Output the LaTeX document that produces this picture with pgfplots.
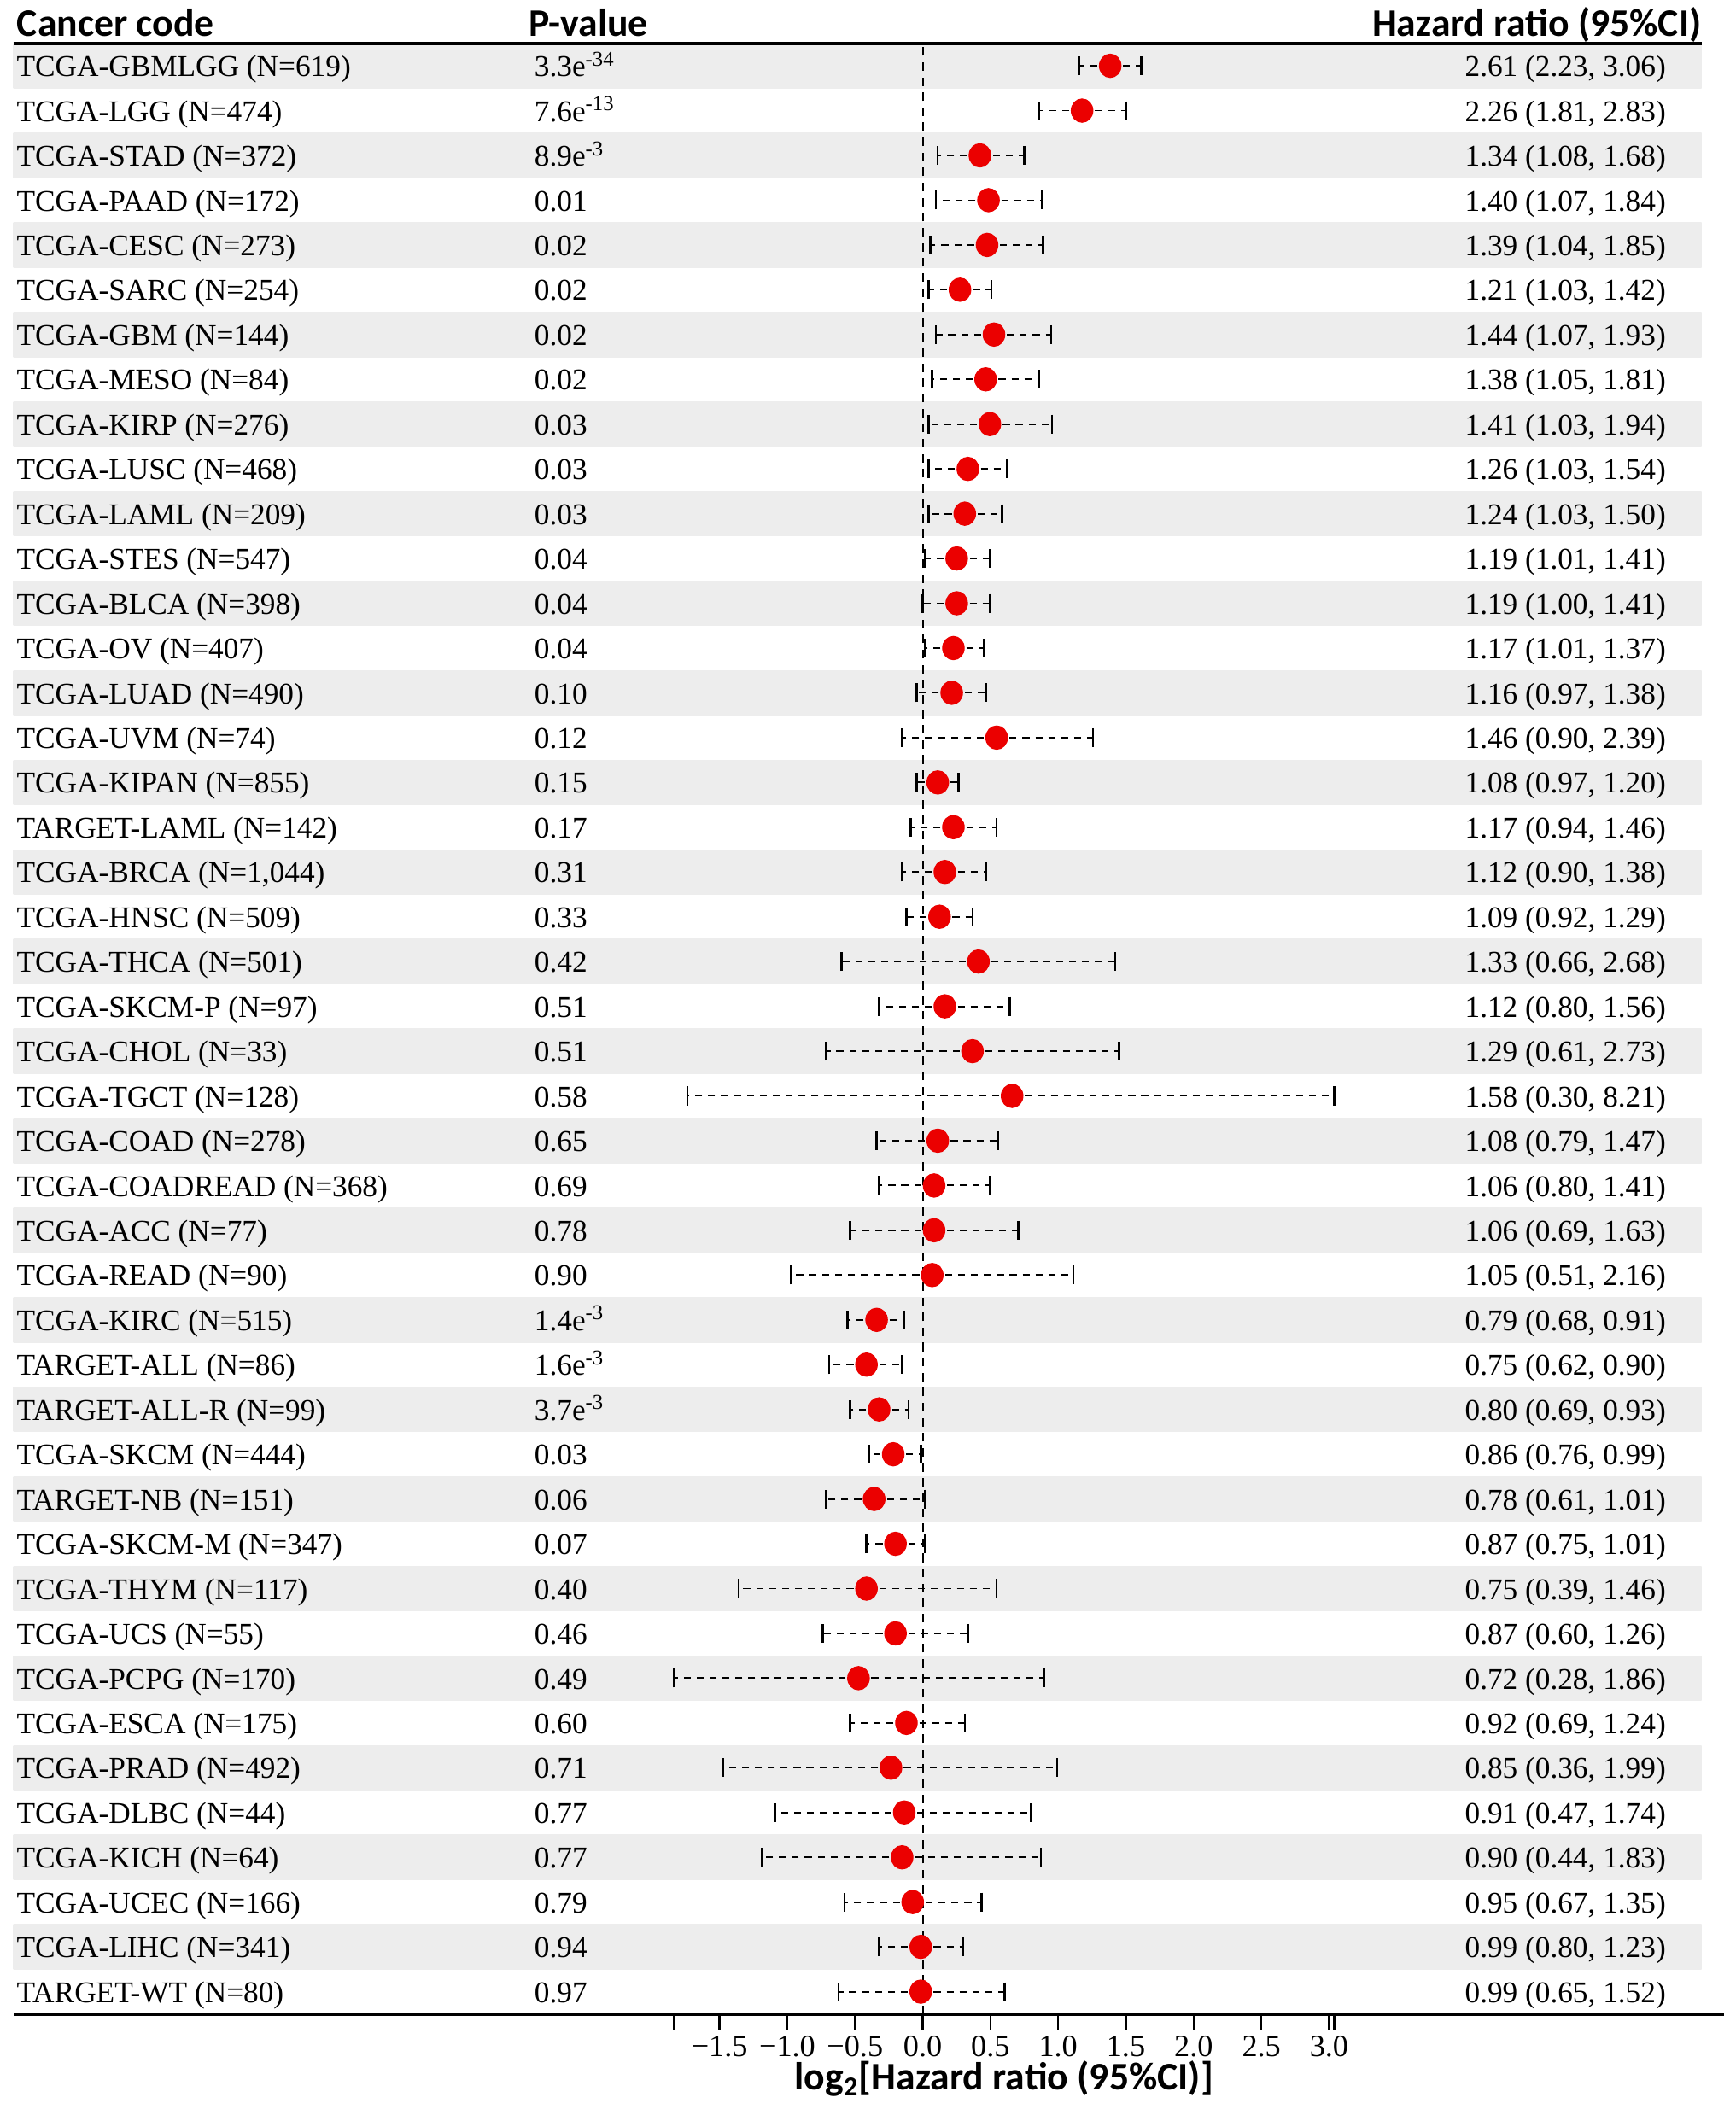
\documentclass[border=0pt]{standalone}
\usepackage{fontspec}
\setmainfont{Liberation Serif}
\newfontfamily\headfont{Carlito}
\usepackage{pgfplots}
\usepackage{pgfplotstable}
\pgfplotsset{compat=1.18}

\definecolor{dotred}{RGB}{235,0,0}
\tikzset{rowtext/.style={inner sep=0pt, yshift=-4pt, font=\fontsize{11.2}{13}\selectfont}}

% row; label; p-value; HR; lower; upper; HR text
\pgfplotstableread[col sep=semicolon, row sep=\\]{
row;name;p;hr;lo;hi;txt\\
1;TCGA-GBMLGG (N=619);3.3e\textsuperscript{-34};2.61;2.23;3.06;2.61 (2.23, 3.06)\\
2;TCGA-LGG (N=474);7.6e\textsuperscript{-13};2.26;1.81;2.83;2.26 (1.81, 2.83)\\
3;TCGA-STAD (N=372);8.9e\textsuperscript{-3};1.34;1.08;1.68;1.34 (1.08, 1.68)\\
4;TCGA-PAAD (N=172);0.01;1.40;1.07;1.84;1.40 (1.07, 1.84)\\
5;TCGA-CESC (N=273);0.02;1.39;1.04;1.85;1.39 (1.04, 1.85)\\
6;TCGA-SARC (N=254);0.02;1.21;1.03;1.42;1.21 (1.03, 1.42)\\
7;TCGA-GBM (N=144);0.02;1.44;1.07;1.93;1.44 (1.07, 1.93)\\
8;TCGA-MESO (N=84);0.02;1.38;1.05;1.81;1.38 (1.05, 1.81)\\
9;TCGA-KIRP (N=276);0.03;1.41;1.03;1.94;1.41 (1.03, 1.94)\\
10;TCGA-LUSC (N=468);0.03;1.26;1.03;1.54;1.26 (1.03, 1.54)\\
11;TCGA-LAML (N=209);0.03;1.24;1.03;1.50;1.24 (1.03, 1.50)\\
12;TCGA-STES (N=547);0.04;1.19;1.01;1.41;1.19 (1.01, 1.41)\\
13;TCGA-BLCA (N=398);0.04;1.19;1.00;1.41;1.19 (1.00, 1.41)\\
14;TCGA-OV (N=407);0.04;1.17;1.01;1.37;1.17 (1.01, 1.37)\\
15;TCGA-LUAD (N=490);0.10;1.16;0.97;1.38;1.16 (0.97, 1.38)\\
16;TCGA-UVM (N=74);0.12;1.46;0.90;2.39;1.46 (0.90, 2.39)\\
17;TCGA-KIPAN (N=855);0.15;1.08;0.97;1.20;1.08 (0.97, 1.20)\\
18;TARGET-LAML (N=142);0.17;1.17;0.94;1.46;1.17 (0.94, 1.46)\\
19;TCGA-BRCA (N=1,044);0.31;1.12;0.90;1.38;1.12 (0.90, 1.38)\\
20;TCGA-HNSC (N=509);0.33;1.09;0.92;1.29;1.09 (0.92, 1.29)\\
21;TCGA-THCA (N=501);0.42;1.33;0.66;2.68;1.33 (0.66, 2.68)\\
22;TCGA-SKCM-P (N=97);0.51;1.12;0.80;1.56;1.12 (0.80, 1.56)\\
23;TCGA-CHOL (N=33);0.51;1.29;0.61;2.73;1.29 (0.61, 2.73)\\
24;TCGA-TGCT (N=128);0.58;1.58;0.30;8.21;1.58 (0.30, 8.21)\\
25;TCGA-COAD (N=278);0.65;1.08;0.79;1.47;1.08 (0.79, 1.47)\\
26;TCGA-COADREAD (N=368);0.69;1.06;0.80;1.41;1.06 (0.80, 1.41)\\
27;TCGA-ACC (N=77);0.78;1.06;0.69;1.63;1.06 (0.69, 1.63)\\
28;TCGA-READ (N=90);0.90;1.05;0.51;2.16;1.05 (0.51, 2.16)\\
29;TCGA-KIRC (N=515);1.4e\textsuperscript{-3};0.79;0.68;0.91;0.79 (0.68, 0.91)\\
30;TARGET-ALL (N=86);1.6e\textsuperscript{-3};0.75;0.62;0.90;0.75 (0.62, 0.90)\\
31;TARGET-ALL-R (N=99);3.7e\textsuperscript{-3};0.80;0.69;0.93;0.80 (0.69, 0.93)\\
32;TCGA-SKCM (N=444);0.03;0.86;0.76;0.99;0.86 (0.76, 0.99)\\
33;TARGET-NB (N=151);0.06;0.78;0.61;1.01;0.78 (0.61, 1.01)\\
34;TCGA-SKCM-M (N=347);0.07;0.87;0.75;1.01;0.87 (0.75, 1.01)\\
35;TCGA-THYM (N=117);0.40;0.75;0.39;1.46;0.75 (0.39, 1.46)\\
36;TCGA-UCS (N=55);0.46;0.87;0.60;1.26;0.87 (0.60, 1.26)\\
37;TCGA-PCPG (N=170);0.49;0.72;0.28;1.86;0.72 (0.28, 1.86)\\
38;TCGA-ESCA (N=175);0.60;0.92;0.69;1.24;0.92 (0.69, 1.24)\\
39;TCGA-PRAD (N=492);0.71;0.85;0.36;1.99;0.85 (0.36, 1.99)\\
40;TCGA-DLBC (N=44);0.77;0.91;0.47;1.74;0.91 (0.47, 1.74)\\
41;TCGA-KICH (N=64);0.77;0.90;0.44;1.83;0.90 (0.44, 1.83)\\
42;TCGA-UCEC (N=166);0.79;0.95;0.67;1.35;0.95 (0.67, 1.35)\\
43;TCGA-LIHC (N=341);0.94;0.99;0.80;1.23;0.99 (0.80, 1.23)\\
44;TARGET-WT (N=80);0.97;0.99;0.65;1.52;0.99 (0.65, 1.52)\\
}\foresttable

\begin{document}
\begin{tikzpicture}
\begin{axis}[
  width=636pt, height=732.6pt, scale only axis,
  xmin=-6.713, xmax=5.918, ymin=0.5, ymax=44.5,
  clip=false,
  axis x line*=bottom, hide y axis,
  x axis line style={-, line width=1.2pt},
  xtick={-1.5,-1,-0.5,0,0.5,1,1.5,2,2.5,3},
  xticklabels={−1.5,−1.0,−0.5,0.0,0.5,1.0,1.5,2.0,2.5,3.0},
  extra x ticks={-1.837,3.037}, extra x tick labels={},
  tick align=outside, major tick length=6pt,
  tick style={black, line width=0.8pt},
  xticklabel style={font=\fontsize{11.5}{13}\selectfont, inner sep=2pt},
  /pgf/number format/assume math mode=true,
]
% alternating row bands
\pgfplotsinvokeforeach{2,4,...,44}{
  \shade[left color=black!7, middle color=black!11, right color=black!7]
    (axis cs:-6.713,#1-0.5) rectangle (axis cs:5.75,#1+0.5);
}
% bounding box like the reference margins
\path (axis cs:-6.812,45.47) rectangle (axis cs:5.998,-1.62);
% header
\draw[line width=1.2pt] (axis cs:-6.713,44.5) -- (axis cs:5.75,44.5);
\node[anchor=base west, inner sep=0pt, font=\headfont\bfseries\fontsize{14.5}{16}\selectfont]
  at (axis cs:-6.69,44.65) {Cancer code};
\node[anchor=base west, inner sep=0pt, font=\headfont\bfseries\fontsize{14.5}{16}\selectfont]
  at (axis cs:-2.91,44.65) {P-value};
\node[anchor=base east, inner sep=0pt, font=\headfont\bfseries\fontsize{14.5}{16}\selectfont]
  at (axis cs:5.753,44.65) {Hazard ratio (95\%CI)};
% zero line
\draw[black, line width=0.6pt, dash pattern=on 3.2pt off 2.4pt]
  (axis cs:0,0.5) -- (axis cs:0,44.5);
% text columns
\addplot[draw=none, no markers, point meta=explicit symbolic, nodes near coords,
  every node near coord/.append style={rowtext, anchor=base west}]
  table[x expr=-6.693, y expr=45-\thisrow{row}, meta=name] {\foresttable};
\addplot[draw=none, no markers, point meta=explicit symbolic, nodes near coords,
  every node near coord/.append style={rowtext, anchor=base west}]
  table[x expr=-2.87, y expr=45-\thisrow{row}, meta=p] {\foresttable};
\addplot[draw=none, no markers, point meta=explicit symbolic, nodes near coords,
  every node near coord/.append style={rowtext, anchor=base east}]
  table[x expr=5.49, y expr=45-\thisrow{row}, meta=txt] {\foresttable};
% hazard ratios with CI
\addplot[only marks, mark=*, mark size=4pt, mark options={dotred, fill=dotred, yscale=1.08},
  error bars/.cd, x dir=both, x explicit,
  error bar style={black, line width=0.6pt, dash pattern=on 2.6pt off 2.2pt},
  error mark options={black, solid, line width=0.8pt, rotate=90, mark size=3.5pt}]
  table[x expr={ln(\thisrow{hr})/ln(2)}, y expr=45-\thisrow{row},
        x error plus expr={ln(\thisrow{hi}/\thisrow{hr})/ln(2)},
        x error minus expr={ln(\thisrow{hr}/\thisrow{lo})/ln(2)}] {\foresttable};
% axis title
\node[font=\headfont\bfseries\fontsize{14.5}{16}\selectfont]
  at (axis cs:0.6,0.5) [yshift=-24pt] {log\textsubscript{2}[Hazard ratio (95\%CI)]};
\end{axis}
\end{tikzpicture}
\end{document}
